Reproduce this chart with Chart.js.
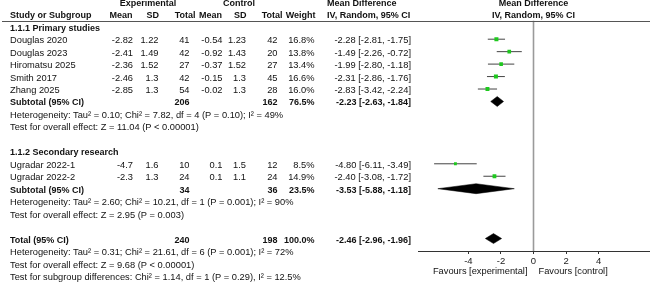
<!DOCTYPE html>
<html>
<head>
<meta charset="utf-8">
<script src="https://cdn.jsdelivr.net/npm/chart.js@4/dist/chart.umd.min.js"></script>
<style>
html,body{margin:0;padding:0;background:#fff;}
canvas{display:block;}
</style>
</head>
<body>
<canvas id="c" width="661" height="285" style="width:661px;height:285px"></canvas>
<script>
// ---- data ----
const studies   = ['Douglas 2020','Douglas 2023','Hiromatsu 2025','Smith 2017','Zhang 2025','Ugradar 2022-1','Ugradar 2022-2'];
const studyGroup = [0,0,0,0,0,1,1];
const expMean   = [-2.82,-2.41,-2.36,-2.46,-2.85,-4.7,-2.3];
const expSD     = [1.22,1.49,1.52,1.3,1.3,1.6,1.3];
const expN      = [41,42,27,42,54,10,24];
const ctlMean   = [-0.54,-0.92,-0.37,-0.15,-0.02,0.1,0.1];
const ctlSD     = [1.23,1.43,1.52,1.3,1.3,1.5,1.1];
const ctlN      = [42,20,27,45,28,12,24];
const weight    = [16.8,13.8,13.4,16.6,16.0,8.5,14.9];
const md        = [-2.28,-1.49,-1.99,-2.31,-2.83,-4.80,-2.40];
const ciLo      = [-2.81,-2.26,-2.80,-2.86,-3.42,-6.11,-3.08];
const ciHi      = [-1.75,-0.72,-1.18,-1.76,-2.24,-3.49,-1.72];

const groupNames = ['1.1.1 Primary studies','1.1.2 Secondary research'];
const subExpN   = [206,34];
const subCtlN   = [162,36];
const subWeight = [76.5,23.5];
const subMd     = [-2.23,-3.53];
const subLo     = [-2.63,-5.88];
const subHi     = [-1.84,-1.18];
const subHet    = ['Heterogeneity: Tau² = 0.10; Chi² = 7.82, df = 4 (P = 0.10); I² = 49%',
                   'Heterogeneity: Tau² = 2.60; Chi² = 10.21, df = 1 (P = 0.001); I² = 90%'];
const subTest   = ['Test for overall effect: Z = 11.04 (P < 0.00001)',
                   'Test for overall effect: Z = 2.95 (P = 0.003)'];

const totExpN = 240, totCtlN = 198, totWeight = 100.0;
const totMd = -2.46, totLo = -2.96, totHi = -1.96;
const totHet = 'Heterogeneity: Tau² = 0.31; Chi² = 21.61, df = 6 (P = 0.001); I² = 72%';
const totTest = 'Test for overall effect: Z = 9.68 (P < 0.00001)';
const subgroupTest = 'Test for subgroup differences: Chi² = 1.14, df = 1 (P = 0.29), I² = 12.5%';

const xTicks = [-4,-2,0,2,4];
const favourLabels = ['Favours [experimental]','Favours [control]'];

// ---- row layout ----
const rows = [];
let k = -1;
const studyRow = [];
const subRow = [];
for (let g = 0; g < groupNames.length; g++) {
  rows.push({type:'group', g, k}); k++;
  studies.forEach((s,i)=>{ if (studyGroup[i]===g){ studyRow[i]=k; rows.push({type:'study', i, k}); k++; } });
  subRow[g] = k; rows.push({type:'sub', g, k}); k++;
  rows.push({type:'het', text: subHet[g], k}); k++;
  rows.push({type:'het', text: subTest[g], k}); k++;
  k++; // blank
}
const totRow = k;
rows.push({type:'total', k}); k++;
rows.push({type:'het', text: totHet, k}); k++;
rows.push({type:'het', text: totTest, k}); k++;
rows.push({type:'het', text: subgroupTest, k}); k++;

const DH = 0.4; // diamond half-height in row units
function diamond(lo, est, hi, r){
  return [{x:lo,y:r},{x:est,y:r-DH},{x:hi,y:r},{x:est,y:r+DH},{x:lo,y:r}];
}

const datasets = [];
datasets.push({
  type:'scatter',
  data: md.map((v,i)=>({x:v, y:studyRow[i]})),
  pointStyle:'rect',
  pointRadius: weight.map(w => 0.98*Math.sqrt(w)/(2*Math.SQRT1_2)),
  backgroundColor:'#1ec81e', borderWidth:0, order:0
});
md.forEach((v,i)=>{
  datasets.push({type:'line', data:[{x:ciLo[i],y:studyRow[i]},{x:ciHi[i],y:studyRow[i]}],
    borderColor:'#444', borderWidth:1, pointRadius:0, fill:false, order:1});
});
for (let g=0; g<groupNames.length; g++){
  datasets.push({type:'line', data: diamond(subLo[g], subMd[g], subHi[g], subRow[g]),
    borderColor:'#000', backgroundColor:'#000', borderWidth:0.5, pointRadius:0, fill:'shape', tension:0, order:1});
}
datasets.push({type:'line', data: diamond(totLo, totMd, totHi, totRow),
  borderColor:'#000', backgroundColor:'#000', borderWidth:0.5, pointRadius:0, fill:'shape', tension:0, order:1});
datasets.push({type:'line', data:[{x:0,y:-1.5},{x:0,y:17}], borderColor:'#9a9a9a', borderWidth:1.6, pointRadius:0, fill:false, order:2});

const FONT = '"Liberation Sans", Arial, sans-serif';
const textPlugin = {
  id:'forestText',
  afterDraw(chart){
    const ctx = chart.ctx, ys = chart.scales.y, xs = chart.scales.x;
    const Y = r => ys.getPixelForValue(r) + 1.5;
    const t = (s, px, r, align, bold) => {
      ctx.font = (bold ? 'bold 9px ' : '9.3px ') + FONT;
      ctx.textAlign = align; ctx.textBaseline = 'middle';
      ctx.fillStyle = '#111';
      ctx.fillText(s, px, Y(r));
    };
    const fmtCI = (a,b,c) => a.toFixed(2)+' ['+b.toFixed(2)+', '+c.toFixed(2)+']';
    ctx.save();
    const x0 = xs.getPixelForValue(0);
    t('Experimental', 148, -2.95, 'center', true);
    t('Control', 239, -2.95, 'center', true);
    t('Mean Difference', 327, -2.95, 'left', true);
    t('Mean Difference', x0, -2.95, 'center', true);
    t('Study or Subgroup', 10, -2.05, 'left', true);
    t('Mean', 132.5, -2.05, 'right', true);
    t('SD', 159, -2.05, 'right', true);
    t('Total', 195.5, -2.05, 'right', true);
    t('Mean', 222, -2.05, 'right', true);
    t('SD', 246.5, -2.05, 'right', true);
    t('Total', 282.5, -2.05, 'right', true);
    t('Weight', 315.5, -2.05, 'right', true);
    t('IV, Random, 95% CI', 327, -2.05, 'left', true);
    t('IV, Random, 95% CI', x0, -2.05, 'center', true);
    ctx.strokeStyle = '#555'; ctx.lineWidth = 1;
    const hy = Math.round(ys.getPixelForValue(-1.5))+0.5;
    ctx.beginPath(); ctx.moveTo(2, hy); ctx.lineTo(650, hy); ctx.stroke();

    rows.forEach(row=>{
      const r = row.k;
      if (row.type==='group') t(groupNames[row.g], 10, r, 'left', true);
      else if (row.type==='study'){
        const i = row.i;
        t(studies[i], 10, r, 'left', false);
        t(String(expMean[i]), 133, r, 'right', false);
        t(String(expSD[i]), 158.5, r, 'right', false);
        t(String(expN[i]), 189.5, r, 'right', false);
        t(String(ctlMean[i]), 222.5, r, 'right', false);
        t(String(ctlSD[i]), 246, r, 'right', false);
        t(String(ctlN[i]), 277.5, r, 'right', false);
        t(weight[i].toFixed(1)+'%', 314.5, r, 'right', false);
        t(fmtCI(md[i], ciLo[i], ciHi[i]), 411, r, 'right', false);
      } else if (row.type==='sub'){
        const g = row.g;
        t('Subtotal (95% CI)', 10, r, 'left', true);
        t(String(subExpN[g]), 189.5, r, 'right', true);
        t(String(subCtlN[g]), 277.5, r, 'right', true);
        t(subWeight[g].toFixed(1)+'%', 314.5, r, 'right', true);
        t(fmtCI(subMd[g], subLo[g], subHi[g]), 411, r, 'right', true);
      } else if (row.type==='total'){
        t('Total (95% CI)', 10, r, 'left', true);
        t(String(totExpN), 189.5, r, 'right', true);
        t(String(totCtlN), 277.5, r, 'right', true);
        t(totWeight.toFixed(1)+'%', 314.5, r, 'right', true);
        t(fmtCI(totMd, totLo, totHi), 411, r, 'right', true);
      } else if (row.type==='het'){
        t(row.text, 10, r, 'left', false);
      }
    });
    t(favourLabels[0], x0 - 6, 18.55, 'right', false);
    t(favourLabels[1], x0 + 5, 18.55, 'left', false);
    ctx.restore();
  }
};

new Chart(document.getElementById('c'), {
  type:'scatter',
  data:{datasets},
  options:{
    responsive:false, animation:false, devicePixelRatio:1,
    layout:{padding:{left:418, right:12, top:20.5, bottom:0}},
    plugins:{legend:{display:false}, tooltip:{enabled:false}},
    scales:{
      x:{type:'linear', min:-7.1, max:7.1,
        afterBuildTicks: s => { s.ticks = xTicks.map(v=>({value:v})); },
        afterFit: s => { s.height = 34; },
        grid:{drawOnChartArea:false, drawTicks:true, tickLength:3, color:'#333'},
        border:{display:true, color:'#333', width:1},
        ticks:{padding:2, color:'#222', font:{family:FONT, size:9.5}, maxRotation:0, autoSkip:false}
      },
      y:{type:'linear', reverse:true, min:-1.5, max:17, display:false}
    }
  },
  plugins:[textPlugin]
});
</script>
</body>
</html>
